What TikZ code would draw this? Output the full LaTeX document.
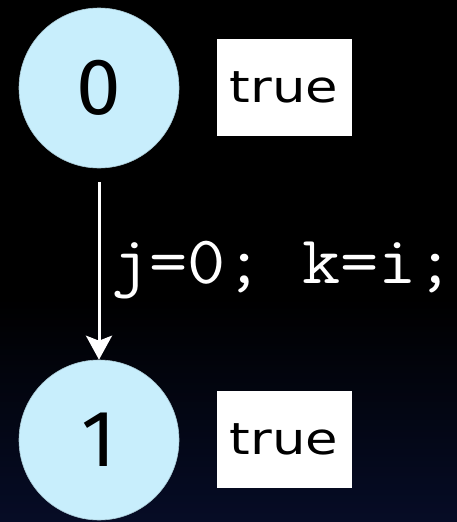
\documentclass[tikz,border=0pt]{standalone}
\usepackage{fontspec}
\usetikzlibrary{arrows.meta}
\newfontfamily\statefont{Fira Sans}
\newfontfamily\truefont[FakeStretch=1.2]{DejaVu Sans}
\newfontfamily\codefont[FakeStretch=1.09]{Latin Modern Mono}
\definecolor{statefill}{RGB}{200,238,252}
\definecolor{bgbottom}{RGB}{6,12,38}
\tikzset{
  statenode/.style={circle,fill=statefill,draw=statefill!85!black,line width=0.6pt,
    minimum size=160pt,inner sep=0pt,font=\statefont\fontsize{80}{80}\selectfont,text=black},
  truebox/.style={rectangle,fill=white,minimum width=135pt,minimum height=97pt,inner sep=0pt,
    font=\truefont\fontsize{44}{44}\selectfont,text=black},
  trans/.style={draw=white,line width=3pt,-{Stealth[width=26pt,length=24pt,inset=5pt]}},
  codelabel/.style={font=\codefont\fontsize{68}{68}\selectfont,text=white,inner sep=0pt,anchor=base east}
}
\begin{document}
\begin{tikzpicture}[x=1pt,y=-1pt]
  \useasboundingbox (0,0) rectangle (457,522);
  \fill[black] (0,0) rectangle (457,300);
  \shade[top color=black,bottom color=bgbottom] (0,299) rectangle (457,522);
  \node[statenode] (s0) at (99,88) {0};
  \node[statenode] (s1) at (99,440) {1};
  \node[truebox] (t0) at (284,87) {true};
  \node[truebox] (t1) at (284,439) {true};
  \coordinate (a0) at ([yshift=-14pt]s0.south);
  \draw[trans] (a0) -- (s1.north);
  \node[codelabel] (lbl) at (455,283) {j=0; k=i;};
\end{tikzpicture}
\end{document}
